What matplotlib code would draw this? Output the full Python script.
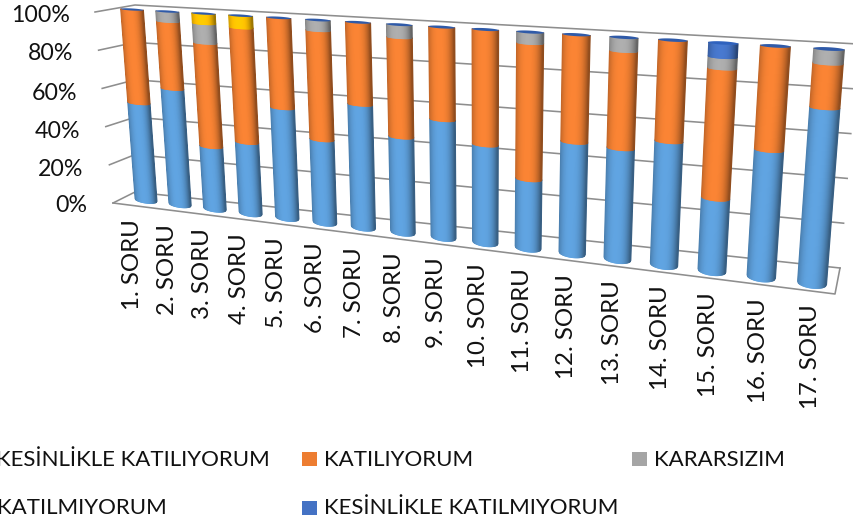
import numpy as np
import matplotlib
matplotlib.use("Agg")
import matplotlib.pyplot as plt
from matplotlib.collections import PolyCollection
from matplotlib.patches import Rectangle, Polygon
from matplotlib.transforms import Transform

categories = ["1. SORU", "2. SORU", "3. SORU", "4. SORU", "5. SORU", "6. SORU", "7. SORU", "8. SORU", "9. SORU",
              "10. SORU", "11. SORU", "12. SORU", "13. SORU", "14. SORU", "15. SORU", "16. SORU", "17. SORU"]
kesin_katiliyorum = [51, 60, 32, 36, 55, 41, 60, 46, 56, 46, 32, 51, 50, 55, 32, 55, 75]
katiliyorum = [49, 35, 53, 58, 45, 54, 40, 48, 44, 54, 63, 49, 44, 45, 57, 45, 19]
kararsizim = [0, 5, 10, 0, 0, 5, 0, 6, 0, 0, 5, 0, 6, 0, 5, 0, 6]
katilmiyorum = [0, 0, 5, 6, 0, 0, 0, 0, 0, 0, 0, 0, 0, 0, 0, 0, 0]
kesin_katilmiyorum = [0, 0, 0, 0, 0, 0, 0, 0, 0, 0, 0, 0, 0, 0, 6, 0, 0]
series_names = ["KESİNLİKLE KATILIYORUM", "KATILIYORUM", "KARARSIZIM", "KATILMIYORUM", "KESİNLİKLE KATILMIYORUM"]
series_values = [kesin_katiliyorum, katiliyorum, kararsizim, katilmiyorum, kesin_katilmiyorum]
y_ticks = [0, 20, 40, 60, 80, 100]

colors = ["#5B9BD5", "#ED7D31", "#A5A5A5", "#FFC000", "#4472C4"]
cap_color = "#2F5AA8"
grid_color = "#8E8E8E"
text_color = "#111111"

plt.rcParams["font.family"] = ["Lato", "DejaVu Sans"]
W, H = 854, 529
fig = plt.figure(figsize=(W / 100, H / 100), dpi=100)
ax = fig.add_axes([0, 0, 1, 1])
ax.set_xlim(0, W)
ax.set_ylim(H, 0)
ax.axis("off")


class Perspective(Transform):
    """Maps (category position, percent) to canvas pixels: projective along the
    category direction, linear along the percent direction."""
    input_dims = output_dims = 2

    def __init__(self, x0, x1, p00, p10, p01, p11):
        super().__init__()
        self.x0, self.dx = x0, x1 - x0
        src = [(0, 0), (1, 0), (0, 1), (1, 1)]
        dst = [p00, p10, p01, p11]
        A, b = [], []
        for (u, v), (px, py) in zip(src, dst):
            A.append([u, v, 1, 0, 0, 0, -u * px, -v * px])
            A.append([0, 0, 0, u, v, 1, -u * py, -v * py])
            b += [px, py]
        self.m = np.append(np.linalg.solve(np.array(A, float), np.array(b, float)), 1).reshape(3, 3)

    def _edge(self, u, v):
        q = np.column_stack([u, np.full_like(u, v), np.ones_like(u)]) @ self.m.T
        return q[:, :2] / q[:, 2:]

    def transform_non_affine(self, values):
        values = np.asarray(values, float)
        u = (values[:, 0] - self.x0) / self.dx
        v = values[:, 1:2] / 100
        return (1 - v) * self._edge(u, 0.0) + v * self._edge(u, 1.0)

    def transform(self, values):
        return self.transform_non_affine(values)


bars = Perspective(0, 16, (146, 200), (812, 283), (132, 9.5), (829, 49))
back = Perspective(0, 1, (135, 192), (840, 268), (135, 5), (858, 44))
side = Perspective(0, 1, (113, 203), (135, 192), (95, 12), (135, 5))

# walls and floor
for t in y_ticks:
    pts = np.vstack([side.transform(np.array([[0, t], [1, t]], float)),
                     back.transform(np.array([[1, t]], float))])
    ax.plot(pts[:, 0], pts[:, 1], color=grid_color, lw=1.15, zorder=1, solid_joinstyle="miter")
floor = np.vstack([side.transform(np.array([[0, 0]], float)), [[835, 294]], back.transform(np.array([[1, 0]], float))])
ax.plot(floor[:, 0], floor[:, 1], color=grid_color, lw=1.15, zorder=1)


def half_width(i):
    return 0.325 - 0.045 * i / 16


def semi(i, v):
    return (0.55 + 1.05 * (1 - np.asarray(v) / 100) ** 2) * (1 + 0.35 * i / 16)


def shade(color, t):
    rgb = np.array(matplotlib.colors.to_rgb(color))
    f = 1.06 - 0.36 * np.abs(t + 0.12) ** 2.6
    return np.clip(rgb * f, 0, 1)


ts = np.linspace(-1, 1, 31)
for i in range(len(categories)):
    base = 0.0
    hw = half_width(i)
    for values, color in zip(series_values, colors):
        val = values[i]
        if val <= 0:
            continue
        top = base + val
        polys, fcs = [], []
        for a, b in zip(ts[:-1], ts[1:]):
            oa, ob = np.sqrt(1 - a * a), np.sqrt(1 - b * b)
            q = np.array([[i + a * hw, base - oa * semi(i, base)],
                          [i + b * hw, base - ob * semi(i, base)],
                          [i + b * hw, top - ob * semi(i, top)],
                          [i + a * hw, top - oa * semi(i, top)]])
            polys.append(bars.transform(q))
            fcs.append(shade(color, (a + b) / 2))
        ax.add_collection(PolyCollection(polys, facecolors=fcs, edgecolors=fcs, linewidths=0.8,
                                         antialiaseds=True, zorder=3))
        base = top
    th = np.linspace(0, 2 * np.pi, 60)
    ell = np.column_stack([i + (hw + 0.008) * np.cos(th), 100 + semi(i, 100) * np.sin(th)])
    cap = cap_color if kesin_katilmiyorum[i] == 0 else "#2F62BE"
    ax.add_patch(Polygon(bars.transform(ell), closed=True, fc=cap, ec="none", zorder=4))

# y tick labels
ytick_x = [87, 83, 80, 77, 73, 70]
ytick_y = [206, 169, 131, 93, 54, 15]
for t, x, y in zip(y_ticks, ytick_x, ytick_y):
    ax.text(x, y, f"{t}%", ha="right", va="center", fontsize=16.7, color=text_color, zorder=5)

# category labels
n = len(categories)
base_pts = bars.transform(np.column_stack([np.arange(n), np.zeros(n)]))
for i, name in enumerate(categories):
    x, y = base_pts[i]
    ax.text(x - 13.5 + 12 * i / 16, y + 19.5 + 2 * i / 16, name, rotation=90, ha="center", va="top",
            fontsize=17.3, color=text_color, zorder=5)

# legend
leg = [(270, 459.5, None, "right"), (324, 459.5, 302, "left"), (654, 459.5, 632, "left"),
       (167, 508.5, None, "right"), (324, 508.5, 302, "left")]
for name, color, (tx, ty, sx, ha) in zip(series_names, colors, leg):
    ax.text(tx, ty, name, ha=ha, va="center", fontsize=16, color=text_color)
    if sx is not None:
        ax.add_patch(Rectangle((sx, ty - 8), 15, 14, fc=color, ec="none"))

fig.savefig("out.png", dpi=100)
